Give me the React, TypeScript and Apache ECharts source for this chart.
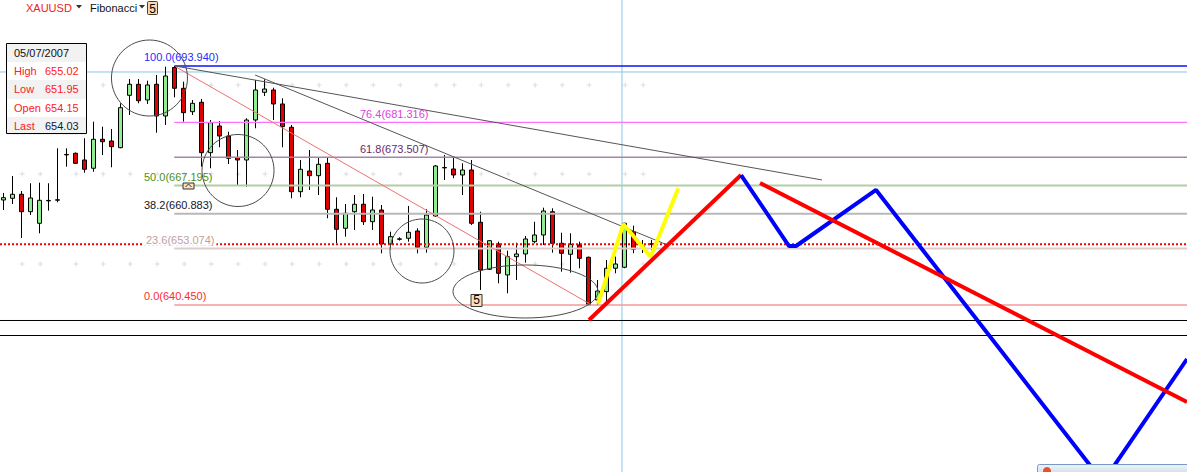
import React, { useEffect, useRef } from "react";
import * as echarts from "echarts";

// ---- data ----
// candles, one per trading day: [open, close, low, high]
const ohlc: number[][] = [
  [663.95, 664.47, 661.71, 665.52],
  [664.33, 665.23, 663.06, 669.32],
  [665.23, 661.33, 655.45, 665.96],
  [661.33, 664.40, 660.59, 667.69],
  [658.74, 663.88, 656.50, 667.82],
  [663.75, 663.85, 661.56, 667.69],
  [663.90, 664.00, 663.44, 675.52],
  [674.05, 674.15, 671.40, 675.52],
  [674.40, 672.16, 672.01, 674.58],
  [672.90, 670.82, 670.06, 677.76],
  [671.05, 677.54, 670.28, 681.47],
  [677.54, 677.00, 674.02, 680.36],
  [677.15, 675.88, 671.27, 679.84],
  [675.66, 684.61, 675.52, 685.59],
  [687.38, 689.84, 682.97, 691.03],
  [689.84, 686.17, 685.59, 691.03],
  [686.33, 689.69, 685.44, 690.65],
  [689.84, 682.75, 679.01, 691.93],
  [682.75, 691.70, 680.74, 693.78],
  [693.60, 688.95, 686.94, 693.94],
  [688.95, 683.49, 681.47, 690.43],
  [683.71, 685.59, 682.97, 686.33],
  [685.82, 674.54, 671.40, 686.55],
  [674.54, 681.25, 671.05, 681.85],
  [680.51, 678.27, 675.75, 681.63],
  [678.27, 673.28, 672.01, 679.24],
  [673.42, 672.90, 667.31, 675.14],
  [672.90, 681.85, 666.93, 682.24],
  [681.85, 688.57, 680.00, 690.81],
  [688.05, 688.79, 687.23, 690.96],
  [688.57, 685.44, 681.85, 689.08],
  [685.44, 680.36, 675.75, 686.71],
  [680.22, 665.81, 664.33, 680.74],
  [665.81, 670.82, 664.56, 672.90],
  [670.44, 669.39, 666.19, 675.14],
  [669.39, 671.94, 665.07, 673.51],
  [672.16, 661.87, 659.86, 673.42],
  [661.87, 657.39, 654.26, 664.56],
  [657.62, 660.97, 655.74, 663.06],
  [661.33, 662.99, 657.24, 665.07],
  [662.99, 659.09, 658.36, 665.29],
  [659.09, 661.71, 657.24, 664.69],
  [661.71, 654.10, 652.02, 662.83],
  [654.10, 655.74, 652.76, 656.86],
  [655.15, 655.25, 654.86, 655.61],
  [655.38, 656.72, 654.62, 662.61],
  [657.01, 653.36, 652.02, 657.62],
  [653.36, 660.59, 652.16, 661.87],
  [660.37, 671.56, 660.22, 671.79],
  [671.13, 671.23, 668.43, 674.02],
  [670.89, 669.55, 668.81, 673.64],
  [669.55, 670.66, 665.07, 672.16],
  [670.66, 658.74, 658.36, 672.90],
  [658.96, 648.28, 643.81, 661.33],
  [648.44, 654.84, 648.28, 655.00],
  [654.10, 647.55, 645.31, 654.62],
  [647.17, 651.26, 643.07, 652.60],
  [651.26, 651.87, 646.05, 654.39],
  [651.87, 655.22, 649.92, 655.89],
  [654.62, 656.12, 654.26, 659.09],
  [656.12, 661.49, 653.88, 662.23],
  [661.33, 654.26, 652.16, 662.09],
  [654.26, 652.02, 647.90, 656.63],
  [651.80, 654.04, 647.68, 656.50],
  [653.88, 650.90, 648.67, 654.62],
  [651.13, 640.45, 640.45, 651.28],
  [641.57, 643.58, 640.45, 646.05],
  [643.43, 648.67, 640.60, 650.52],
  [648.67, 649.63, 647.55, 651.28],
  [648.89, 658.74, 648.67, 658.87],
  [656.86, 652.92, 652.02, 658.20],
  [653.66, 653.56, 652.09, 655.00],
  [654.15, 654.03, 651.95, 655.02],
];

const symbolName = "XAUUSD";
const studyName = "Fibonacci";
const infoDate = "05/07/2007";
const infoLabels = ["High", "Low", "Open", "Last"];
const infoValues = ["655.02", "651.95", "654.15", "654.03"];
const lastPrice = 654.03;

// Fibonacci retracement levels
const fibLevels = ["100.0", "76.4", "61.8", "50.0", "38.2", "23.6", "0.0"];
const fibPrices = [693.94, 681.316, 673.507, 667.195, 660.883, 653.074, 640.45];
const fibStartIndex = 19;
const fibLabelIndex = [15.63, 39.63, 39.63, 15.63, 15.63, 15.63, 15.63];

// drawn trend lines, points as [bar index, price]
const trendUpper = [[19.08, 693.94], [90.97, 668.43]];
const trendMiddle = [[27.97, 691.93], [73.52, 654.1]];
const trendRed = [[19.19, 693.72], [65.19, 640.67]];
const yellowPath = [[66.08, 640.67], [68.89, 658.58], [71.93, 651.26], [75.0, 666.57]];
const redUp = [[65.08, 637.09], [81.97, 669.54]];
const redDown = [[84.08, 667.75], [131.52, 618.74]];
const bluePath = [
  [81.97, 669.54], [87.3, 653.65], [88.08, 653.65], [96.97, 666.19], [122.19, 600.83], [131.52, 628.36],
];
const separatorPrices = [636.98, 633.62];
const crossIndex = 68.74;
const crossPrice = 692.6;

// faint background grid marks: bar indices and price rows
const gridMarkIndex = [2, 4, 8, 11, 14, 17, 20, 23, 26, 29, 32, 35, 38, 41, 44, 48, 50, 53, 56, 59, 62, 65, 69, 71];
const gridMarkPrices = [689.69, 669.77, 649.63];

// annotation circles: [bar index, price, radiusX px, radiusY px]
const circles = [
  [16.24, 691.25, 38, 38],
  [26.08, 670.55, 36, 36],
  [46.52, 652.53, 32, 32],
  [58.02, 643.47, 72.5, 26.5],
];
const waveMark = { index: 52.58, price: 641.46, text: "5" };
const arrowMark = { index: 20.58, price: 667.08 };

// ---- style ----
const fibLineColors = ["#1010ff", "#ff70ff", "#a088a8", "#b4cca8", "#b8b8b8", "#ddcccc", "#f29a9a"];
const fibLineWidths = [1.3, 1.3, 1.5, 2, 2, 2, 1.3];
const fibTextColors = ["#2a2aff", "#e040e0", "#6a2a6a", "#4f8f14", "#151525", "#c0a0a0", "#ff2a2a"];

const X_MIN = -0.367;
const X_MAX = 131.52;
const Y_MIN = 603.07;
const Y_MAX = 708.71;
const FONT = 'Arial, "Liberation Sans", sans-serif';

export default function App() {
  const ref = useRef<HTMLDivElement>(null);
  useEffect(() => {
    const chart = echarts.init(ref.current!, null, { renderer: "svg" });
    const line = (pts: number[][], color: string, width: number, z: number, type: any = "solid") => ({
      type: "line",
      data: pts,
      symbol: "none",
      silent: true,
      clip: true,
      z,
      lineStyle: { color, width, type, cap: "butt" },
    });
    const series: any[] = [];
    const marks: number[][] = [];
    gridMarkPrices.forEach((p) => gridMarkIndex.forEach((i) => marks.push([i + 0.1, p])));
    series.push({
      type: "scatter",
      data: marks,
      symbol: "path://M2,0h1v5h-1zM0,2h5v1h-5z",
      symbolSize: 5,
      silent: true,
      z: 0,
      itemStyle: { color: "#d4d4d4" },
    });
    series.push(line([[X_MIN, crossPrice], [X_MAX, crossPrice]], "#86c8e6", 1, 1));
    series.push(line([[crossIndex, Y_MIN], [crossIndex, Y_MAX]], "#86c8e6", 1, 1));
    separatorPrices.forEach((p) => series.push(line([[X_MIN, p], [X_MAX, p]], "#000", 1, 1)));
    series.push({
      type: "candlestick",
      data: ohlc.map((d, i) => [i, d[0], d[1], d[2], d[3]]),
      barWidth: 4,
      silent: true,
      z: 2,
      itemStyle: {
        color: "#90ee90",
        color0: "#e00000",
        borderColor: "#000",
        borderColor0: "#000",
        borderColorDoji: "#000",
        borderWidth: 1,
      },
    });
    fibPrices.forEach((p, k) =>
      series.push(line([[fibStartIndex, p], [X_MAX, p]], fibLineColors[k], fibLineWidths[k], 3))
    );
    series.push(line([[X_MIN, lastPrice], [X_MAX, lastPrice]], "#ff0000", 2, 4, [2, 2]));
    series.push(line(trendUpper, "#555", 1, 5));
    series.push(line(trendMiddle, "#555", 1, 5));
    series.push(line(trendRed, "#f07070", 1, 5));
    series.push(line(yellowPath, "#ffff00", 4, 6));
    series.push(line(redUp, "#ff0000", 4, 6));
    series.push(line(bluePath, "#0000ff", 4, 6));
    series.push(line(redDown, "#ff0000", 4, 7));

    chart.setOption({
      animation: false,
      grid: { left: 0, right: 0, top: 0, bottom: 0 },
      xAxis: { type: "value", min: X_MIN, max: X_MAX, show: false },
      yAxis: { type: "value", min: Y_MIN, max: Y_MAX, show: false, scale: true },
      series,
    });

    const px = (x: number, y: number) => chart.convertToPixel({ gridIndex: 0 }, [x, y]) as number[];
    const g: any[] = [];
    // circles
    circles.forEach(([ci, cp, rx, ry]) => {
      const [cx, cy] = px(ci, cp);
      g.push({
        type: "ellipse",
        shape: { cx, cy, rx, ry },
        style: { fill: "none", stroke: "#4a4a4a", lineWidth: 1 },
        z: 20,
        silent: true,
      });
    });
    // fib labels
    fibLevels.forEach((lv, k) => {
      const [x, y] = px(fibLabelIndex[k], fibPrices[k]);
      g.push({
        type: "text",
        x,
        y: y - 8.5,
        z: 30,
        style: {
          text: `${lv}(${fibPrices[k].toFixed(3)})`,
          fill: fibTextColors[k],
          font: `11px ${FONT}`,
          verticalAlign: "middle",
          align: "left",
          backgroundColor: k === 5 ? "#fff" : undefined,
          padding: k === 5 ? [0, 2, 0, 2] : 0,
        },
      });
    });
    // wave mark
    {
      const [x, y] = px(waveMark.index, waveMark.price);
      g.push({ type: "rect", shape: { x: x - 5.5, y: y - 6, width: 11, height: 12 }, style: { fill: "#fce0bc", stroke: "#333", lineWidth: 1 }, z: 30 });
      g.push({ type: "text", x, y, z: 31, style: { text: waveMark.text, fill: "#000", font: `12px ${FONT}`, align: "center", verticalAlign: "middle" } });
    }
    {
      const [x, y] = px(arrowMark.index, arrowMark.price);
      g.push({ type: "rect", shape: { x: x - 5.5, y: y - 3, width: 11, height: 6 }, style: { fill: "#fce0bc", stroke: "#333", lineWidth: 1 }, z: 30 });
      g.push({ type: "polyline", shape: { points: [[x - 3, y + 1], [x, y - 2], [x + 3, y + 1]] }, style: { stroke: "#333", lineWidth: 1, fill: "none" }, z: 31 });
    }
    // header
    g.push({ type: "text", x: 26, y: 7.5, z: 40, style: { text: symbolName, fill: "#ee2222", font: `11px ${FONT}`, verticalAlign: "middle" } });
    g.push({ type: "polygon", shape: { points: [[76, 5], [82, 5], [79, 8.5]] }, style: { fill: "#333" }, z: 40 });
    g.push({ type: "text", x: 90, y: 7.5, z: 40, style: { text: studyName, fill: "#111", font: `11px ${FONT}`, verticalAlign: "middle" } });
    g.push({ type: "polygon", shape: { points: [[139, 5], [145, 5], [142, 8.5]] }, style: { fill: "#333" }, z: 40 });
    g.push({ type: "rect", shape: { x: 147.5, y: 1.5, width: 10, height: 13, r: 1 }, style: { fill: "#f8d8b0", stroke: "#4a3a2a", lineWidth: 1 }, z: 40 });
    g.push({ type: "text", x: 152.5, y: 8.5, z: 41, style: { text: "5", fill: "#000", font: `12px ${FONT}`, align: "center", verticalAlign: "middle" } });
    // info box
    const bands = [43, 61, 79, 98, 116, 134];
    g.push({ type: "rect", shape: { x: 6.5, y: 43.5, width: 80, height: 90 }, style: { fill: "#fff", stroke: "none" }, z: 50 });
    for (let r = 0; r < 5; r++) {
      if (r % 2 === 0)
        g.push({ type: "rect", shape: { x: 7, y: bands[r] + 1, width: 79, height: bands[r + 1] - bands[r] }, style: { fill: "#f2f2f2" }, z: 51 });
    }
    g.push({ type: "rect", shape: { x: 6.5, y: 43.5, width: 80, height: 90 }, style: { fill: "none", stroke: "#000", lineWidth: 1 }, z: 53 });
    g.push({ type: "text", x: 14, y: 52.5, z: 54, style: { text: infoDate, fill: "#111", font: `11px ${FONT}`, verticalAlign: "middle" } });
    infoLabels.forEach((lb, k) => {
      const yy = (bands[k + 1] + bands[k + 2]) / 2 + 0.5;
      g.push({ type: "text", x: 14, y: yy, z: 54, style: { text: lb, fill: "#ff2020", font: `11px ${FONT}`, verticalAlign: "middle" } });
      g.push({ type: "text", x: 45, y: yy, z: 54, style: { text: infoValues[k], fill: k === 3 ? "#102040" : "#ff2020", font: `11px ${FONT}`, verticalAlign: "middle" } });
    });
    // taskbar fragment at bottom right
    g.push({
      type: "rect",
      shape: { x: 1037.5, y: 464.5, width: 152, height: 12, r: 2 },
      style: {
        fill: new echarts.graphic.LinearGradient(0, 0, 0, 1, [
          { offset: 0, color: "#eef4f8" },
          { offset: 1, color: "#c8d8e4" },
        ]),
        stroke: "#7a98c4",
        lineWidth: 1,
      },
      z: 60,
    });
    g.push({ type: "circle", shape: { cx: 1047, cy: 471, r: 4 }, style: { fill: "#e8502a" }, z: 61 });

    chart.setOption({ graphic: g });
    return () => chart.dispose();
  }, []);
  return (
    <div
      ref={ref}
      style={{ position: "absolute", left: 0, top: 0, width: 1187, height: 472, background: "#fff" }}
    />
  );
}
